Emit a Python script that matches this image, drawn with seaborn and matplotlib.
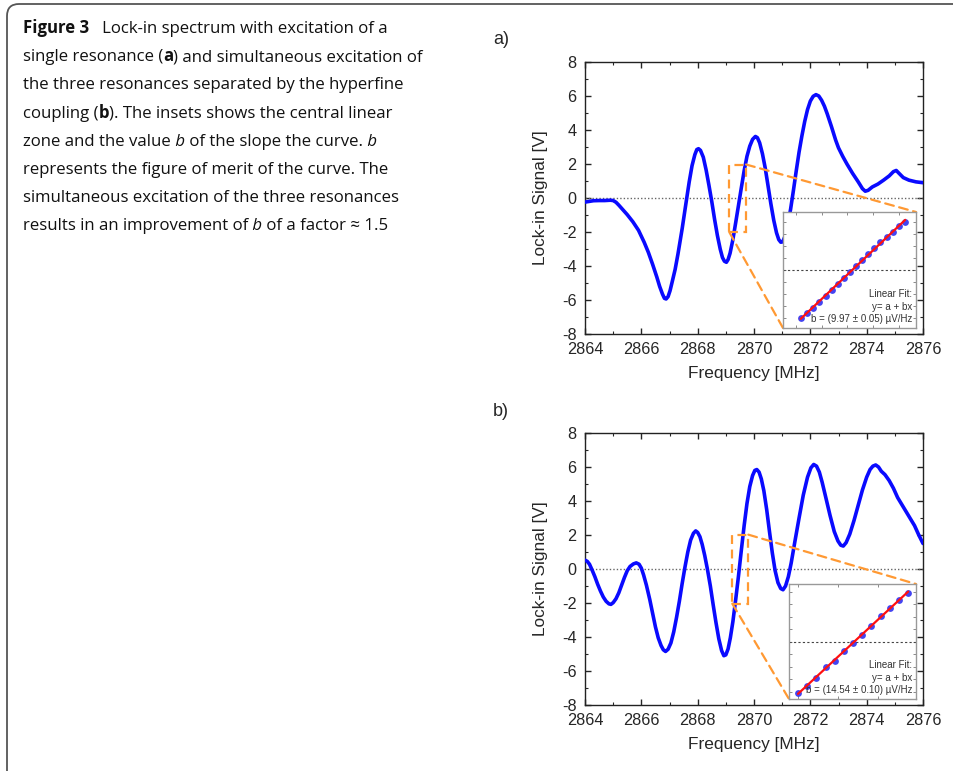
import matplotlib
matplotlib.use("Agg")
import matplotlib.pyplot as plt
import matplotlib.transforms as mtransforms
from matplotlib.patches import Rectangle, FancyBboxPatch, ConnectionPatch
from matplotlib.ticker import MultipleLocator
import seaborn as sns

# ---- panel a: single resonance ----
freq_a = [2864.0, 2864.15, 2864.3, 2864.5, 2864.7, 2864.9, 2865.0, 2865.1, 2865.2, 2865.35,
          2865.5, 2865.7, 2865.9, 2866.1, 2866.25, 2866.4, 2866.55, 2866.65, 2866.75, 2866.82,
          2866.88, 2866.95, 2867.02, 2867.1, 2867.2, 2867.3, 2867.45, 2867.6, 2867.7, 2867.8,
          2867.9, 2867.97, 2868.03, 2868.1, 2868.2, 2868.3, 2868.4, 2868.5, 2868.6, 2868.7,
          2868.8, 2868.88, 2868.95, 2869.02, 2869.08, 2869.15, 2869.25, 2869.35, 2869.44, 2869.55,
          2869.65, 2869.75, 2869.85, 2869.95, 2870.05, 2870.12, 2870.2, 2870.3, 2870.4, 2870.5,
          2870.6, 2870.7, 2870.8, 2870.88, 2870.95, 2871.02, 2871.1, 2871.2, 2871.3, 2871.4,
          2871.5, 2871.6, 2871.7, 2871.8, 2871.9, 2872.0, 2872.1, 2872.2, 2872.3, 2872.4,
          2872.5, 2872.6, 2872.75, 2872.9, 2873.0, 2873.15, 2873.3, 2873.5, 2873.7, 2873.85,
          2873.95, 2874.05, 2874.2, 2874.4, 2874.6, 2874.8, 2874.95, 2875.05, 2875.15, 2875.3,
          2875.5, 2875.75, 2876.0]
signal_a = [-0.24, -0.2, -0.16, -0.15, -0.15, -0.13, -0.15, -0.25, -0.42, -0.7,
            -0.98, -1.4, -1.9, -2.6, -3.2, -3.9, -4.65, -5.2, -5.65, -5.9,
            -5.94, -5.8, -5.45, -4.9, -4.2, -3.3, -1.8, -0.14, 0.95, 1.9,
            2.55, 2.85, 2.9, 2.8, 2.4, 1.65, 0.75, -0.2, -1.25, -2.2,
            -3.0, -3.5, -3.72, -3.78, -3.62, -3.25, -2.45, -1.45, -0.53, 0.6,
            1.6, 2.45, 3.05, 3.45, 3.62, 3.55, 3.25, 2.6, 1.75, 0.7,
            -0.35, -1.3, -2.05, -2.45, -2.6, -2.58, -2.25, -1.55, -0.65, 0.45,
            1.6, 2.7, 3.65, 4.5, 5.2, 5.7, 5.98, 6.08, 6.0, 5.75,
            5.4, 4.95, 4.2, 3.4, 2.95, 2.45, 2.0, 1.45, 0.95, 0.55,
            0.4, 0.45, 0.65, 0.82, 1.05, 1.3, 1.55, 1.62, 1.45, 1.2,
            1.05, 0.95, 0.9]

# inset a: central linear zone
fit_f_a = [2869.318, 2869.343, 2869.367, 2869.391, 2869.416, 2869.440, 2869.463, 2869.487, 2869.510,
           2869.534, 2869.558, 2869.581, 2869.605, 2869.628, 2869.653, 2869.678, 2869.701, 2869.726]
fit_v_a = [-1.97, -1.77, -1.56, -1.33, -1.08, -0.84, -0.56, -0.33, -0.08,
           0.15, 0.43, 0.67, 0.90, 1.14, 1.36, 1.58, 1.80, 2.00]
fit_txt_a = "Linear Fit:\ny= a + bx\nb = (9.97 ± 0.05) µV/Hz"

# ---- panel b: three resonances ----
freq_b = [2864.0, 2864.08, 2864.16, 2864.25, 2864.35, 2864.45, 2864.55, 2864.65, 2864.75, 2864.85,
          2864.92, 2865.0, 2865.1, 2865.2, 2865.3, 2865.4, 2865.5, 2865.6, 2865.72, 2865.82,
          2865.92, 2866.0, 2866.08, 2866.18, 2866.3, 2866.4, 2866.5, 2866.6, 2866.7, 2866.78,
          2866.86, 2866.95, 2867.05, 2867.15, 2867.25, 2867.35, 2867.45, 2867.55, 2867.65, 2867.75,
          2867.85, 2867.93, 2868.0, 2868.08, 2868.16, 2868.25, 2868.35, 2868.45, 2868.55, 2868.65,
          2868.75, 2868.85, 2868.93, 2869.0, 2869.08, 2869.16, 2869.25, 2869.35, 2869.45, 2869.55,
          2869.65, 2869.75, 2869.85, 2869.95, 2870.03, 2870.1, 2870.18, 2870.26, 2870.35, 2870.45,
          2870.55, 2870.65, 2870.75, 2870.85, 2870.95, 2871.03, 2871.12, 2871.22, 2871.32, 2871.45,
          2871.6, 2871.75, 2871.9, 2872.02, 2872.12, 2872.22, 2872.32, 2872.42, 2872.55, 2872.7,
          2872.85, 2872.98, 2873.08, 2873.17, 2873.27, 2873.4, 2873.55, 2873.7, 2873.85, 2874.0,
          2874.12, 2874.22, 2874.32, 2874.42, 2874.52, 2874.65, 2874.8, 2874.95, 2875.1, 2875.3,
          2875.5, 2875.7, 2875.85, 2876.0]
signal_b = [0.52, 0.45, 0.28, -0.05, -0.45, -0.9, -1.3, -1.65, -1.9, -2.05,
            -2.08, -1.98, -1.75, -1.4, -0.95, -0.5, -0.1, 0.15, 0.3, 0.36,
            0.28, 0.05, -0.35, -0.95, -1.8, -2.6, -3.4, -4.05, -4.5, -4.75,
            -4.85, -4.72, -4.35, -3.7, -2.85, -1.9, -0.85, 0.12, 1.0, 1.7,
            2.1, 2.24, 2.15, 1.9, 1.45, 0.8, -0.05, -1.0, -2.1, -3.15,
            -4.1, -4.8, -5.1, -5.05, -4.7, -4.05, -3.1, -1.8, -0.4, 1.1,
            2.55, 3.85, 4.85, 5.5, 5.8, 5.85, 5.7, 5.3, 4.6, 3.5,
            2.2, 0.95, -0.1, -0.8, -1.15, -1.22, -1.0, -0.45, 0.35, 1.6,
            3.0, 4.35, 5.4, 5.95, 6.15, 6.05, 5.7, 5.1, 4.2, 3.15,
            2.2, 1.65, 1.4, 1.35, 1.55, 2.05, 2.85, 3.75, 4.65, 5.4,
            5.85, 6.05, 6.12, 6.0, 5.75, 5.55, 5.2, 4.75, 4.2, 3.65,
            3.1, 2.55, 2.0, 1.5]

fit_f_b = [2869.400, 2869.423, 2869.446, 2869.469, 2869.492, 2869.515, 2869.538,
           2869.560, 2869.583, 2869.606, 2869.629, 2869.652, 2869.675]
fit_v_b = [-2.05, -1.76, -1.45, -1.03, -0.79, -0.39, -0.05,
           0.28, 0.64, 1.01, 1.34, 1.68, 1.94]
fit_txt_b = "Linear Fit:\ny= a + bx\nb = (14.54 ± 0.10) µV/Hz"

# caption lines as (text, weight, style) pieces
caption = [
    [("Figure 3", "bold", "normal"), ("   Lock-in spectrum with excitation of a", "normal", "normal")],
    [("single resonance (", "normal", "normal"), ("a", "bold", "normal"),
     (") and simultaneous excitation of", "normal", "normal")],
    [("the three resonances separated by the hyperfine", "normal", "normal")],
    [("coupling (", "normal", "normal"), ("b", "bold", "normal"),
     ("). The insets shows the central linear", "normal", "normal")],
    [("zone and the value", "normal", "normal"), (" b", "normal", "italic"),
     (" of the slope the curve.", "normal", "normal"), (" b", "normal", "italic")],
    [("represents the figure of merit of the curve. The", "normal", "normal")],
    [("simultaneous excitation of the three resonances", "normal", "normal")],
    [("results in an improvement of", "normal", "normal"), (" b", "normal", "italic"),
     (" of a factor ≈ 1.5", "normal", "normal")],
]

sns.set_style("ticks")
plt.rcParams["font.family"] = ["Liberation Sans", "DejaVu Sans"]
plt.rcParams["axes.unicode_minus"] = False

W, H = 954, 771
fig = plt.figure(figsize=(W / 100, H / 100), dpi=100)
fig.patch.set_facecolor("white")
renderer = fig.canvas.get_renderer()


def frac(x0, y0, x1, y1):
    # pixel box (top-left origin) -> figure fraction rect
    return [x0 / W, 1 - y1 / H, (x1 - x0) / W, (y1 - y0) / H]


def panel(ax_box, ins_box, f, v, ff, fv, ins_xlim, ins_ylim, txt, zbox, label, label_y):
    ax = fig.add_axes(frac(*ax_box))
    ax.axhline(0, color="#666666", ls=(0, (1, 1.5)), lw=1, zorder=1)
    sns.lineplot(x=f, y=v, ax=ax, color="#0a0aff", lw=2.6, zorder=3)
    ax.set_xlim(2864, 2876)
    ax.set_ylim(-8, 8)
    ax.xaxis.set_major_locator(MultipleLocator(2))
    ax.xaxis.set_minor_locator(MultipleLocator(1))
    ax.yaxis.set_major_locator(MultipleLocator(2))
    ax.yaxis.set_minor_locator(MultipleLocator(1))
    ax.tick_params(which="both", direction="in", top=True, right=True, labelsize=11.7, pad=6)
    ax.tick_params(which="major", length=4, width=1)
    ax.tick_params(which="minor", length=2.5, width=0.8)
    for s in ax.spines.values():
        s.set_linewidth(1)
        s.set_color("#222222")
    ax.set_xlabel("Frequency [MHz]", fontsize=12.4, labelpad=6)
    ax.set_ylabel("Lock-in Signal [V]", fontsize=12.4, labelpad=10)

    x0, x1, y0, y1 = zbox
    ax.add_patch(Rectangle((x0, y0), x1 - x0, y1 - y0, fill=False, ec="#ff9933",
                           lw=1.6, ls=(0, (4, 2.5)), zorder=4))

    ins = fig.add_axes(frac(*ins_box))
    ins.set_zorder(5)
    ins.axhline(0, color="#444444", ls=(0, (2, 2)), lw=0.8, zorder=1)
    sns.regplot(x=ff, y=fv, ax=ins, ci=None, truncate=True,
                scatter_kws=dict(color="#1515ee", s=24, linewidths=0, zorder=3),
                line_kws=dict(color="#ff1010", lw=1.6, zorder=4))
    ins.set_xlim(*ins_xlim)
    ins.set_ylim(*ins_ylim)
    ins.set_xlabel("")
    ins.set_ylabel("")
    ins.xaxis.set_major_locator(MultipleLocator(0.1))
    ins.yaxis.set_major_locator(MultipleLocator(0.5))
    ins.tick_params(direction="in", top=True, right=True, length=2.5, width=0.6,
                    color="#777777", labelbottom=False, labelleft=False)
    for s in ins.spines.values():
        s.set_linewidth(1)
        s.set_color("#999999")
    ins.text(0.97, 0.035, txt, transform=ins.transAxes, ha="right", va="bottom",
             fontsize=7.0, color="#333333", linespacing=1.3)

    for xa, ya, xb, yb in [(x1, y1, 1, 1), (x0, y0, 0, 0)]:
        con = ConnectionPatch(xyA=(xa, ya), coordsA=ax.transData, xyB=(xb, yb),
                              coordsB=ins.transAxes, color="#ff9933", lw=1.6,
                              ls=(0, (4, 2.5)), zorder=4)
        fig.add_artist(con)

    fig.text(493 / W, 1 - label_y / H, label, fontsize=13, va="center", ha="left")


panel((585, 62, 923, 334), (783, 212, 916, 328), freq_a, signal_a, fit_f_a, fit_v_a,
      (2869.249, 2869.768), (-2.4, 2.4), fit_txt_a, (2869.12, 2869.72, -2.0, 1.97), "a)", 40)
panel((585, 433, 923, 705), (789, 584, 916, 699), freq_b, signal_b, fit_f_b, fit_v_b,
      (2869.3775, 2869.6945), (-2.3, 2.3), fit_txt_b, (2869.23, 2869.80, -2.04, 2.02), "b)", 411)

# caption, piece by piece so bold / italic words sit inline
for i, pieces in enumerate(caption):
    x = 23
    y = 1 - (33 + i * 28.2) / H
    for txt, weight, style in pieces:
        t = fig.text(x / W, y, txt, fontsize=12.1, family="Open Sans", fontweight=weight,
                     fontstyle=style, va="baseline", ha="left", color="#111111")
        x = t.get_window_extent(renderer).x1

border = FancyBboxPatch((7, -30), 1100, H - 4 + 30, boxstyle="round,pad=0,rounding_size=12",
                        fill=False, ec="#555555", lw=1.3, transform=mtransforms.IdentityTransform())
fig.add_artist(border)

fig.savefig("out.png", dpi=100)
